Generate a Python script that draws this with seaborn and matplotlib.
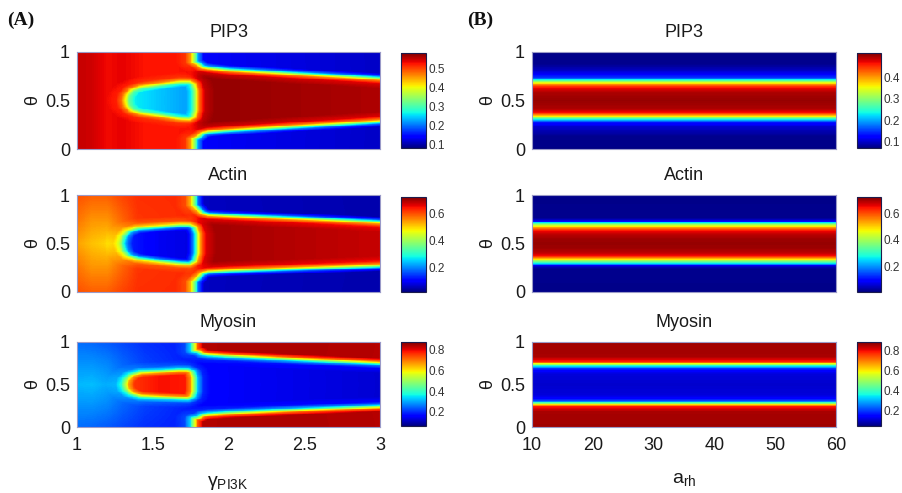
import numpy as np
import matplotlib
matplotlib.use("Agg")
import matplotlib.pyplot as plt
from matplotlib.path import Path
import seaborn as sns

# ------------------------------------------------------------------
# Values
# ------------------------------------------------------------------
species = ["PIP3", "Actin", "Myosin"]
theta_tick_pos = [1.0, 0.5, 0.0]
theta_tick_labels = ["1", "0.5", "0"]
gamma_ticks = [1, 1.5, 2, 2.5, 3]
gamma_tick_labels = ["1", "1.5", "2", "2.5", "3"]
arh_ticks = [10, 20, 30, 40, 50, 60]
arh_tick_labels = ["10", "20", "30", "40", "50", "60"]

# colour-bar limits and ticks
clim_a = {"PIP3": (0.083, 0.58), "Actin": (0.02, 0.723), "Myosin": (0.062, 0.874)}
clim_b = {"PIP3": (0.072, 0.5125), "Actin": (0.0125, 0.72), "Myosin": (0.048, 0.88)}
cticks_a = {"PIP3": [0.1, 0.2, 0.3, 0.4, 0.5], "Actin": [0.2, 0.4, 0.6], "Myosin": [0.2, 0.4, 0.6, 0.8]}
cticks_b = {"PIP3": [0.1, 0.2, 0.3, 0.4], "Actin": [0.2, 0.4, 0.6], "Myosin": [0.2, 0.4, 0.6, 0.8]}

# ---- panel (A): gamma_PI3K sweep ----
left_theta = [0.0, 0.25, 0.5, 0.75, 1.0]
# background left of the switch (rows = left_theta)
pip3_left_x = [1.0, 1.1, 1.2, 1.3, 1.45, 1.8]
pip3_left = [[0.55, 0.545, 0.53, 0.535, 0.525, 0.525]] * 5
actin_left_x = [1.0, 1.1, 1.2, 1.3, 1.4, 1.8]
actin_left = [[0.60, 0.59, 0.59, 0.61, 0.625, 0.63],
              [0.575, 0.55, 0.55, 0.585, 0.62, 0.63],
              [0.54, 0.515, 0.50, 0.55, 0.60, 0.63],
              [0.575, 0.55, 0.55, 0.585, 0.62, 0.63],
              [0.60, 0.59, 0.59, 0.61, 0.625, 0.63]]
myosin_left_x = [1.0, 1.1, 1.2, 1.3, 1.45, 1.8]
myosin_left = [[0.25, 0.245, 0.235, 0.22, 0.20, 0.18],
               [0.28, 0.28, 0.27, 0.245, 0.215, 0.18],
               [0.31, 0.315, 0.30, 0.27, 0.23, 0.19],
               [0.28, 0.28, 0.27, 0.245, 0.215, 0.18],
               [0.25, 0.245, 0.235, 0.22, 0.20, 0.18]]

# right of the switch: central band and outer caps
band_x = [1.8, 2.0, 2.5, 3.0]
pip3_band = [0.57, 0.57, 0.565, 0.56]
pip3_outer = [0.13, 0.125, 0.115, 0.105]
actin_band = [0.70, 0.70, 0.69, 0.68]
actin_outer = [0.05, 0.045, 0.04, 0.035]
myosin_band = [0.16, 0.15, 0.135, 0.12]
myosin_outer = [0.85, 0.855, 0.855, 0.85]

switch_x = {"PIP3": 1.777, "Actin": 1.777, "Myosin": 1.77}
edge_x = [1.80, 1.83, 1.87, 2.0, 2.5, 3.0, 3.2]
pip3_upper = [0.88, 0.845, 0.835, 0.815, 0.772, 0.73, 0.715]
pip3_lower = [0.12, 0.16, 0.175, 0.19, 0.235, 0.28, 0.295]
actin_upper = [0.86, 0.815, 0.80, 0.79, 0.76, 0.725, 0.71]
actin_lower = [0.14, 0.19, 0.205, 0.215, 0.24, 0.265, 0.28]
myosin_upper = [0.89, 0.86, 0.85, 0.835, 0.79, 0.75, 0.735]
myosin_lower = [0.11, 0.14, 0.15, 0.165, 0.205, 0.24, 0.255]

# island left of the switch
pip3_isl_x = [1.32, 1.33, 1.36, 1.42, 1.55, 1.68, 1.74, 1.77, 1.785]
pip3_isl_top = [0.50, 0.56, 0.61, 0.64, 0.665, 0.69, 0.69, 0.67, 0.60]
pip3_isl_bot = [0.50, 0.44, 0.395, 0.37, 0.345, 0.315, 0.31, 0.33, 0.40]
actin_isl_x = [1.30, 1.31, 1.34, 1.40, 1.55, 1.68, 1.74, 1.775, 1.79]
actin_isl_top = [0.50, 0.57, 0.625, 0.655, 0.67, 0.685, 0.685, 0.665, 0.60]
actin_isl_bot = [0.50, 0.43, 0.375, 0.345, 0.32, 0.30, 0.295, 0.32, 0.40]
myosin_isl_x = [1.315, 1.325, 1.355, 1.42, 1.55, 1.67, 1.73, 1.76, 1.775]
myosin_isl_top = [0.50, 0.56, 0.61, 0.645, 0.655, 0.67, 0.67, 0.65, 0.58]
myosin_isl_bot = [0.50, 0.44, 0.395, 0.36, 0.35, 0.34, 0.335, 0.355, 0.42]
isl_val_x = [1.35, 1.55, 1.75]
pip3_isl_val = [0.26, 0.235, 0.215]
actin_isl_val = [0.12, 0.08, 0.07]
myosin_isl_val = [0.76, 0.80, 0.79]

# edge blending profile (signed distance in px -> weight)
edge_sd = [-10, -5, -2, 0, 2, 5, 1000]
edge_w = [0.0, 0.05, 0.22, 0.5, 0.8, 0.98, 1.0]

# ---- panel (B): a_rh sweep, profiles along theta (constant along a_rh) ----
pip3_b_theta = [0.0, 0.127, 0.2, 0.23, 0.26, 0.28, 0.306, 0.333, 0.35, 0.368, 0.41, 0.5,
                0.59, 0.643, 0.667, 0.687, 0.711, 0.735, 0.746, 0.78, 0.82, 0.88, 1.0]
pip3_b_vals = [0.075, 0.078, 0.095, 0.103, 0.125, 0.142, 0.237, 0.347, 0.40, 0.457, 0.494, 0.503,
               0.494, 0.457, 0.40, 0.347, 0.237, 0.15, 0.142, 0.116, 0.095, 0.078, 0.075]
actin_b_theta = [0.0, 0.24, 0.26, 0.275, 0.298, 0.315, 0.332, 0.35, 0.366, 0.40, 0.45, 0.5,
                 0.55, 0.6, 0.64, 0.66, 0.685, 0.70, 0.71, 0.73, 0.745, 0.76, 1.0]
actin_b_vals = [0.02, 0.022, 0.05, 0.10, 0.278, 0.37, 0.455, 0.55, 0.63, 0.68, 0.70, 0.705,
                0.70, 0.68, 0.63, 0.55, 0.455, 0.37, 0.278, 0.10, 0.05, 0.022, 0.02]
myosin_b_theta = [0.0, 0.18, 0.21, 0.243, 0.255, 0.267, 0.294, 0.31, 0.333, 0.38, 0.5,
                  0.62, 0.67, 0.694, 0.718, 0.745, 0.757, 0.77, 0.80, 0.83, 1.0]
myosin_b_vals = [0.855, 0.85, 0.82, 0.776, 0.68, 0.568, 0.36, 0.21, 0.152, 0.115, 0.105,
                 0.115, 0.152, 0.21, 0.36, 0.568, 0.68, 0.776, 0.82, 0.85, 0.855]

A_DATA = {
    "PIP3": dict(lx=pip3_left_x, lv=pip3_left, band=pip3_band, outer=pip3_outer,
                 up=pip3_upper, lo=pip3_lower, ix=pip3_isl_x, it=pip3_isl_top,
                 ib=pip3_isl_bot, iv=pip3_isl_val),
    "Actin": dict(lx=actin_left_x, lv=actin_left, band=actin_band, outer=actin_outer,
                  up=actin_upper, lo=actin_lower, ix=actin_isl_x, it=actin_isl_top,
                  ib=actin_isl_bot, iv=actin_isl_val),
    "Myosin": dict(lx=myosin_left_x, lv=myosin_left, band=myosin_band, outer=myosin_outer,
                   up=myosin_upper, lo=myosin_lower, ix=myosin_isl_x, it=myosin_isl_top,
                   ib=myosin_isl_bot, iv=myosin_isl_val),
}
B_DATA = {"PIP3": (pip3_b_theta, pip3_b_vals),
          "Actin": (actin_b_theta, actin_b_vals),
          "Myosin": (myosin_b_theta, myosin_b_vals)}

# ------------------------------------------------------------------
# helpers for rendering the fields
# ------------------------------------------------------------------
def signed_dist(xg, tg, px, pt, sx, sy):
    px = np.asarray(px, float) * sx
    py = np.asarray(pt, float) * sy
    P = np.column_stack([xg.ravel() * sx, tg.ravel() * sy])
    ax_, ay_ = px, py
    bx_, by_ = np.roll(px, -1), np.roll(py, -1)
    dx, dy = bx_ - ax_, by_ - ay_
    L2 = np.maximum(dx * dx + dy * dy, 1e-9)
    t = ((P[:, 0, None] - ax_) * dx + (P[:, 1, None] - ay_) * dy) / L2
    t = np.clip(t, 0, 1)
    cx, cy = ax_ + t * dx, ay_ + t * dy
    d = np.sqrt(np.min((P[:, 0, None] - cx) ** 2 + (P[:, 1, None] - cy) ** 2, axis=1))
    inside = Path(np.column_stack([px, py])).contains_points(P)
    return np.where(inside, d, -d).reshape(xg.shape)


def blend_w(sd):
    return np.interp(sd, edge_sd, edge_w)


def field_a(name, nx, ny, sy):
    d = A_DATA[name]
    sx = 80.0
    xs = 1 + (np.arange(nx) + 0.5) / nx * 2
    ts = 1 - (np.arange(ny) + 0.5) / ny
    xg, tg = np.meshgrid(xs, ts)
    rows = np.array([np.interp(xs, d["lx"], r) for r in d["lv"]])
    left = np.empty_like(xg)
    for j in range(nx):
        left[:, j] = np.interp(ts, left_theta, rows[:, j])
    xv = switch_x[name]
    band = np.interp(xg, band_x, d["band"])
    outer = np.interp(xg, band_x, d["outer"])
    wr = blend_w((xg - xv) * sx)
    f = left * (1 - wr) + band * wr
    top_x = [xv, xv] + edge_x + [3.3]
    top_t = [1.4, 0.90] + d["up"] + [1.4]
    bot_x = [xv, xv] + edge_x + [3.3]
    bot_t = [-0.4, 0.10] + d["lo"] + [-0.4]
    for px_, pt_ in ((top_x, top_t), (bot_x, bot_t)):
        w = blend_w(signed_dist(xg, tg, px_, pt_, sx, sy))
        f = f * (1 - w) + outer * w
    ix = list(d["ix"]) + list(d["ix"][::-1][:-1])
    it = list(d["it"]) + list(d["ib"][::-1][:-1])
    w = blend_w(signed_dist(xg, tg, ix, it, sx, sy))
    iv = np.interp(xg, isl_val_x, d["iv"])
    f = f * (1 - w) + iv * w
    return f


def field_b(name, nx, ny):
    th, vals = B_DATA[name]
    ts = 1 - (np.arange(ny) + 0.5) / ny
    col = np.interp(ts, th, vals)
    return np.repeat(col[:, None], nx, axis=1)


# ------------------------------------------------------------------
# figure
# ------------------------------------------------------------------
sns.set_theme(style="white")
plt.rcParams["font.family"] = ["Liberation Sans", "DejaVu Sans"]
plt.rcParams["mathtext.fontset"] = "custom"
plt.rcParams["mathtext.rm"] = "Liberation Sans"
plt.rcParams["mathtext.it"] = "Liberation Sans:italic"

W, H = 902, 493
fig = plt.figure(figsize=(W / 100, H / 100), dpi=100)
fig.patch.set_facecolor("white")


def add_px_axes(x0, y0, x1, y1):
    return fig.add_axes([x0 / W, 1 - y1 / H, (x1 - x0) / W, (y1 - y0) / H])


ax_rows = [(52, 149), (195, 292), (342, 427)]
cb_rows = [(53, 148), (197, 292), (342, 426)]
txt = "#1a1a1a"

for panel in ("A", "B"):
    ax_x = (77, 380) if panel == "A" else (532, 836)
    cb_x = (401, 426) if panel == "A" else (857, 881)
    for r, name in enumerate(species):
        ax = add_px_axes(ax_x[0], ax_rows[r][0], ax_x[1], ax_rows[r][1])
        cax = add_px_axes(cb_x[0], cb_rows[r][0], cb_x[1], cb_rows[r][1])
        sy = ax_rows[r][1] - ax_rows[r][0]
        ny = 120
        if panel == "A":
            nx = 360
            data = field_a(name, nx, ny, sy)
            vmin, vmax = clim_a[name]
            cts = cticks_a[name]
        else:
            nx = 60
            data = field_b(name, nx, ny)
            vmin, vmax = clim_b[name]
            cts = cticks_b[name]
        sns.heatmap(data, ax=ax, cmap="jet", vmin=vmin, vmax=vmax, cbar=True,
                    cbar_ax=cax, xticklabels=False, yticklabels=False,
                    rasterized=True)
        for s in ax.spines.values():
            s.set_visible(True)
            s.set_color("#9a9ac8")
            s.set_linewidth(0.8)
        ax.set_yticks([(1 - v) * ny for v in theta_tick_pos])
        ax.set_yticklabels(theta_tick_labels, fontsize=13, color=txt)
        ax.set_ylabel("θ", fontsize=13, color=txt, labelpad=3)
        if r == 2:
            if panel == "A":
                ax.set_xticks([(v - 1) / 2 * nx for v in gamma_ticks])
                ax.set_xticklabels(gamma_tick_labels, fontsize=13, color=txt)
            else:
                ax.set_xticks([(v - 10) / 50 * nx for v in arh_ticks])
                ax.set_xticklabels(arh_tick_labels, fontsize=13, color=txt)
        else:
            ax.set_xticks([])
        ax.tick_params(axis="both", length=0)
        ax.tick_params(axis="y", pad=5)
        ax.tick_params(axis="x", pad=7)
        ax.set_title(name, fontsize=13, color=txt, pad=11)

        cb = ax.collections[0].colorbar
        cb.set_ticks(cts)
        cb.set_ticklabels([f"{v:g}" for v in cts])
        cb.ax.tick_params(length=0, labelsize=8.5, pad=2, labelcolor="#333333")
        cb.outline.set_edgecolor("#1c1c4c")
        cb.outline.set_linewidth(0.8)

fig.text(228 / W, 1 - 483 / H, r"$\mathrm{\gamma}_{\mathrm{PI3K}}$", ha="center",
         va="center", fontsize=14, color=txt)
fig.text(684 / W, 1 - 480 / H, r"$\mathrm{a}_{\mathrm{rh}}$", ha="center",
         va="center", fontsize=14, color=txt)
fig.text(7 / W, 1 - 20 / H, "(A)", ha="left", va="center", fontsize=14,
         fontweight="bold", family=["Liberation Serif", "DejaVu Serif"], color="#111111")
fig.text(467 / W, 1 - 20 / H, "(B)", ha="left", va="center", fontsize=14,
         fontweight="bold", family=["Liberation Serif", "DejaVu Serif"], color="#111111")

fig.savefig("out.png", dpi=100, facecolor="white")
